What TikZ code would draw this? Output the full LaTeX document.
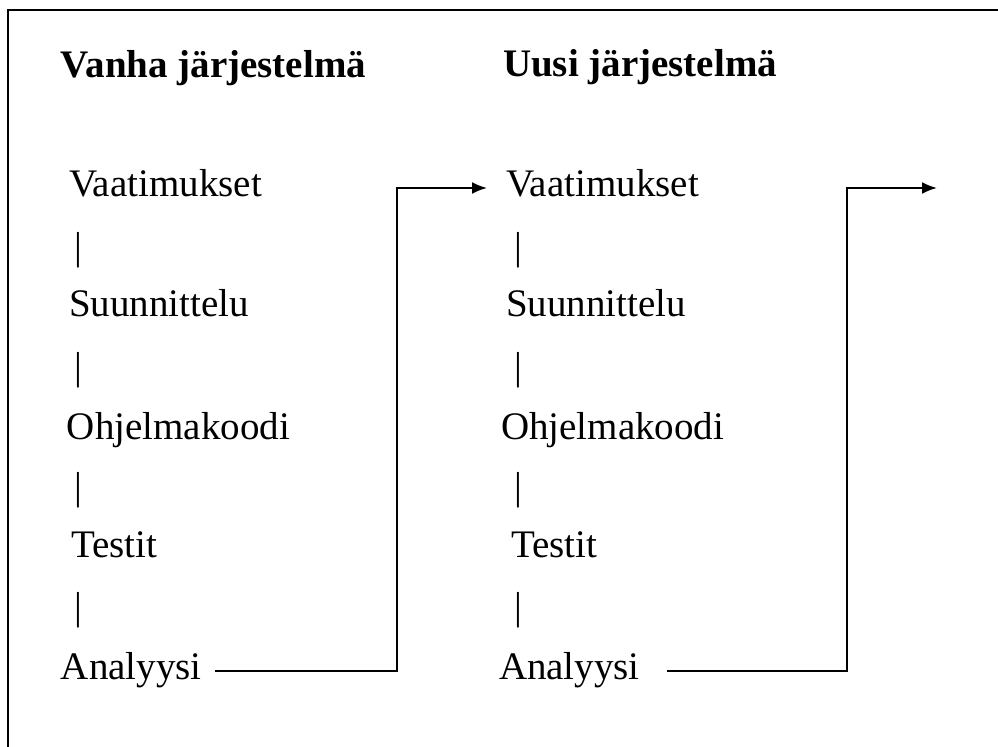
\documentclass[tikz,border=0pt]{standalone}
\usepackage{fontspec}
\setmainfont{Liberation Serif}
\usetikzlibrary{positioning, arrows.meta}
\tikzset{phase/.style={anchor=base west, inner sep=3pt, font=\fontsize{19.5}{23}\selectfont},
heading/.style={anchor=base west, inner sep=3pt, font=\fontsize{19.5}{23}\selectfont\bfseries},
link/.style={inner sep=0pt, font=\fontsize{19.5}{23}\selectfont}}

\begin{document}
\begin{tikzpicture}[x=0.5pt,y=-0.5pt,>={Latex[length=7.5pt,width=6pt]},line width=1pt]
 \useasboundingbox (0,0) rectangle (998,747);
 %Drawing frame
 \draw (8,747) -- (8,10) -- (998,10);

 %Old system column
 \node[heading] (head1) at (54,78) {Vanha järjestelmä};
 \node[phase] (vaat1) at (62,197) {Vaatimukset};
 \node[link] (bar11) at (78,250) {|};
 \node[phase] (suun1) at (62,317) {Suunnittelu};
 \node[link] (bar12) at (78,370) {|};
 \node[phase] (ohje1) at (60,440) {Ohjelmakoodi};
 \node[link] (bar13) at (78,490) {|};
 \node[phase] (test1) at (64,558) {Testit};
 \node[link] (bar14) at (78,610) {|};
 \node[phase] (ana1) at (54,680) {Analyysi};

 %New system column
 \node[heading] (head2) at (496,77) {Uusi järjestelmä};
 \node[phase] (vaat2) at (499,197) {Vaatimukset};
 \node[link] (bar21) at (518,250) {|};
 \node[phase] (suun2) at (499,317) {Suunnittelu};
 \node[link] (bar22) at (518,370) {|};
 \node[phase] (ohje2) at (494,440) {Ohjelmakoodi};
 \node[link] (bar23) at (518,490) {|};
 \node[phase] (test2) at (504,558) {Testit};
 \node[link] (bar24) at (518,610) {|};
 \node[phase] (ana2) at (492,680) {Analyysi};

 %Feedback arrows
 \coordinate (turn1) at (397,188);
 \coordinate (turn2) at (847,188);
 \coordinate (exit) at (937,188);
 \draw[->] ([xshift=3pt]ana1.east) -- (ana1.east -| turn1) -- (turn1) -- ([xshift=-6pt]vaat2.west |- turn1);
 \draw[->] ([xshift=10pt]ana2.east) -- (ana2.east -| turn2) -- (turn2) -- (exit);

\end{tikzpicture}
\end{document}
